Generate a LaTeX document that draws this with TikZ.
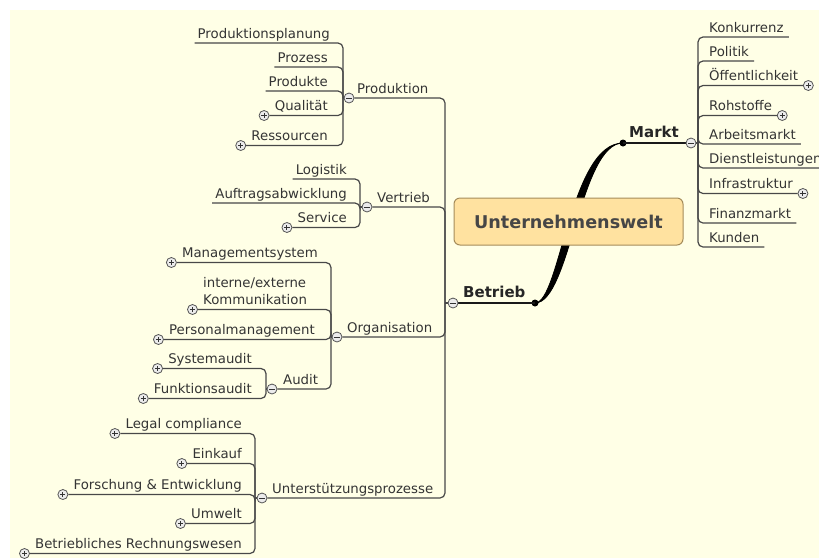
\documentclass[tikz,border=0pt]{standalone}
\usepackage{fontspec}
\setmainfont{DejaVu Sans}
\usetikzlibrary{calc}
\pgfdeclarelayer{bg}
\pgfdeclarelayer{lines}
\pgfsetlayers{bg,lines,main}

\definecolor{bgyellow}{RGB}{255,255,230}
\definecolor{linec}{RGB}{72,72,72}
\definecolor{txtc}{RGB}{52,52,52}
\definecolor{rootfill}{RGB}{255,226,160}
\definecolor{rootdraw}{RGB}{165,140,90}
\definecolor{roottxt}{RGB}{70,70,70}
\definecolor{togfill}{RGB}{236,236,236}
\definecolor{togdraw}{RGB}{85,85,85}

\tikzset{
  conn/.style={draw=linec, line width=1.2pt, rounded corners=5pt},
  lbl/.style={inner sep=0pt, text=txtc, font=\fontsize{13.3}{16}\selectfont},
  mainlbl/.style={inner sep=0pt, text=black!85, font=\bfseries\fontsize{15}{18}\selectfont},
  root/.style={draw=rootdraw, fill=rootfill, line width=1pt, rounded corners=6pt,
    minimum width=229pt, minimum height=47pt, inner sep=0pt, text=roottxt,
    font=\bfseries\fontsize{17.6}{20}\selectfont},
  tog/.style={circle, draw=togdraw, fill=togfill, line width=0.8pt, minimum size=10pt, inner sep=0pt},
  tplus/.style={tog, path picture={
    \draw[line width=1pt, black!80]
      ([xshift=-2.6pt]path picture bounding box.center) -- ([xshift=2.6pt]path picture bounding box.center)
      ([yshift=-2.6pt]path picture bounding box.center) -- ([yshift=2.6pt]path picture bounding box.center);}},
  tminus/.style={tog, path picture={
    \draw[line width=1pt, black!80]
      ([xshift=-2.6pt]path picture bounding box.center) -- ([xshift=2.6pt]path picture bounding box.center);}},
}

\begin{document}
\begin{tikzpicture}[x=1pt,y=-1pt]
\useasboundingbox (0,0) rectangle (819,558);
\begin{pgfonlayer}{bg}
  \fill[white] (0,0) rectangle (819,558);
  \fill[bgyellow] (10,10) rectangle (819,558);
\end{pgfonlayer}

% ---------- central topic and the two main branches ----------
\coordinate (dB) at (535,303);
\coordinate (dM) at (623,143);
\begin{pgfonlayer}{lines}
  \filldraw[black, line width=0.8pt]
    (dB) .. controls ($(dB)+(25,0)$) and ($(dM)+(-53,0)$) .. (dM)
         .. controls ($(dM)+(-43,0)$) and ($(dB)+(35,0)$) .. (dB);
  \fill[black] (dB) circle (3.5pt);
  \fill[black] (dM) circle (3.5pt);
\end{pgfonlayer}
\node[root] (root) at (568.5,221.5) {Unternehmenswelt};

\node[mainlbl, anchor=base west] (markt) at (629,137) {Markt};
\node[tminus] (M) at (691,143) {};
\coordinate (jM) at (698,143);

\node[mainlbl, anchor=base west] (betrieb) at (463,297) {Betrieb};
\node[tminus] (B) at (453,303) {};
\coordinate (jB) at (445,303);

% ---------- Markt ----------
\node[lbl, anchor=base west] (m1) at (709,32) {Konkurrenz};
\node[lbl, anchor=base west] (m2) at (709,56) {Politik};
\node[lbl, anchor=base west] (m3) at (709,80) {Öffentlichkeit};
\node[tplus] (m3p) at ([xshift=10pt,yshift=-5.5pt]m3.base east) {};
\node[lbl, anchor=base west] (m4) at (709,110) {Rohstoffe};
\node[tplus] (m4p) at ([xshift=10pt,yshift=-5.5pt]m4.base east) {};
\node[lbl, anchor=base west] (m5) at (709,139) {Arbeitsmarkt};
\node[lbl, anchor=base west] (m6) at (709,163) {Dienstleistungen};
\node[lbl, anchor=base west] (m7) at (709,188) {Infrastruktur};
\node[tplus] (m7p) at ([xshift=10pt,yshift=-5.5pt]m7.base east) {};
\node[lbl, anchor=base west] (m8) at (709,218) {Finanzmarkt};
\node[lbl, anchor=base west] (m9) at (709,242) {Kunden};

% ---------- Betrieb: Produktion ----------
\node[lbl, anchor=base west] (prod) at (357,93) {Produktion};
\node[tminus] (P) at (349,98) {};
\coordinate (jP) at (343,98);
\node[lbl, anchor=base east] (p1) at (330,38) {Produktionsplanung};
\node[lbl, anchor=base east] (p2) at (328,62) {Prozess};
\node[lbl, anchor=base east] (p3) at (328,86) {Produkte};
\node[lbl, anchor=base east] (p4) at (328,110) {Qualität};
\node[tplus] (p4p) at ([xshift=-10.5pt,yshift=-5.5pt]p4.base west) {};
\node[lbl, anchor=base east] (p5) at (328,140) {Ressourcen};
\node[tplus] (p5p) at ([xshift=-10.5pt,yshift=-5.5pt]p5.base west) {};

% ---------- Betrieb: Vertrieb ----------
\node[lbl, anchor=base west] (vert) at (377,202) {Vertrieb};
\node[tminus] (V) at (367,207) {};
\coordinate (jV) at (360,207);
\node[lbl, anchor=base east] (v1) at (347,174) {Logistik};
\node[lbl, anchor=base east] (v2) at (347,198) {Auftragsabwicklung};
\node[lbl, anchor=base east] (v3) at (347,222) {Service};
\node[tplus] (v3p) at ([xshift=-10.5pt,yshift=-5.5pt]v3.base west) {};

% ---------- Betrieb: Organisation ----------
\node[lbl, anchor=base west] (org) at (347,332) {Organisation};
\node[tminus] (O) at (337,337) {};
\coordinate (jO) at (331,337);
\node[lbl, anchor=base east] (o1) at (318,257) {Managementsystem};
\node[tplus] (o1p) at ([xshift=-10.5pt,yshift=-5.5pt]o1.base west) {};
\node[lbl, anchor=base west] (o2a) at (203,287) {interne/externe};
\node[lbl, anchor=base west] (o2) at (203,304) {Kommunikation};
\node[tplus] (o2p) at ([xshift=-10.5pt,yshift=-5.5pt]o2.base west) {};
\node[lbl, anchor=base east] (o3) at (315,334) {Personalmanagement};
\node[tplus] (o3p) at ([xshift=-10.5pt,yshift=-5.5pt]o3.base west) {};
\node[lbl, anchor=base west] (aud) at (283,384) {Audit};
\node[tminus] (A) at (272,389) {};
\coordinate (jA) at (266,389);
\node[lbl, anchor=base east] (a1) at (252,363) {Systemaudit};
\node[tplus] (a1p) at ([xshift=-10.5pt,yshift=-5.5pt]a1.base west) {};
\node[lbl, anchor=base east] (a2) at (252,393) {Funktionsaudit};
\node[tplus] (a2p) at ([xshift=-10.5pt,yshift=-5.5pt]a2.base west) {};

% ---------- Betrieb: Unterstuetzungsprozesse ----------
\node[lbl, anchor=base west] (ust) at (272,493) {Unterstützungsprozesse};
\node[tminus] (U) at (262,498) {};
\coordinate (jU) at (255,498);
\node[lbl, anchor=base east] (u1) at (242,428) {Legal compliance};
\node[tplus] (u1p) at ([xshift=-10.5pt,yshift=-5.5pt]u1.base west) {};
\node[lbl, anchor=base east] (u2) at (242,458) {Einkauf};
\node[tplus] (u2p) at ([xshift=-10.5pt,yshift=-5.5pt]u2.base west) {};
\node[lbl, anchor=base east] (u3) at (242,489) {Forschung \& Entwicklung};
\node[tplus] (u3p) at ([xshift=-10.5pt,yshift=-5.5pt]u3.base west) {};
\node[lbl, anchor=base east] (u4) at (242,518) {Umwelt};
\node[tplus] (u4p) at ([xshift=-10.5pt,yshift=-5.5pt]u4.base west) {};
\node[lbl, anchor=base east] (u5) at (242,548) {Betriebliches Rechnungswesen};
\node[tplus] (u5p) at ([xshift=-10.5pt,yshift=-5.5pt]u5.base west) {};

% ---------- connectors ----------
\begin{pgfonlayer}{lines}
  \draw[conn, draw=black!90] (dM) -- (M);
  \draw[conn, draw=black!90] (dB) -- (B);

  \draw[conn] (M) -- (jM);
  \draw[conn] (jM) |- ([xshift=5pt,yshift=-5pt]m1.base east);
  \draw[conn] (jM) |- ([xshift=5pt,yshift=-5pt]m2.base east);
  \draw[conn] (jM) |- (m3p);
  \draw[conn] (jM) |- (m4p);
  \draw[conn] (jM) |- ([xshift=5pt,yshift=-5pt]m5.base east);
  \draw[conn] (jM) |- ([xshift=5pt,yshift=-5pt]m6.base east);
  \draw[conn] (jM) |- (m7p);
  \draw[conn] (jM) |- ([xshift=5pt,yshift=-5pt]m8.base east);
  \draw[conn] (jM) |- ([xshift=5pt,yshift=-5pt]m9.base east);

  \draw[conn] (B) -- (jB);
  \draw[conn] (jB) |- (P);
  \draw[conn] (jB) |- (V);
  \draw[conn] (jB) |- (O);
  \draw[conn] (jB) |- (U);

  \draw[conn] (P) -- (jP);
  \draw[conn] (jP) |- ([xshift=-3pt,yshift=-5pt]p1.base west);
  \draw[conn] (jP) |- ([xshift=-3pt,yshift=-5pt]p2.base west);
  \draw[conn] (jP) |- ([xshift=-3pt,yshift=-5pt]p3.base west);
  \draw[conn] (jP) |- (p4p);
  \draw[conn] (jP) |- (p5p);

  \draw[conn] (V) -- (jV);
  \draw[conn] (jV) |- ([xshift=-3pt,yshift=-5pt]v1.base west);
  \draw[conn] (jV) |- ([xshift=-3pt,yshift=-5pt]v2.base west);
  \draw[conn] (jV) |- (v3p);

  \draw[conn] (O) -- (jO);
  \draw[conn] (jO) |- (o1p);
  \draw[conn] (jO) |- (o2p);
  \draw[conn] (jO) |- (o3p);
  \draw[conn] (jO) |- (A);

  \draw[conn] (A) -- (jA);
  \draw[conn] (jA) |- (a1p);
  \draw[conn] (jA) |- (a2p);

  \draw[conn] (U) -- (jU);
  \draw[conn] (jU) |- (u1p);
  \draw[conn] (jU) |- (u2p);
  \draw[conn] (jU) |- (u3p);
  \draw[conn] (jU) |- (u4p);
  \draw[conn] (jU) |- (u5p);
\end{pgfonlayer}
\end{tikzpicture}
\end{document}
